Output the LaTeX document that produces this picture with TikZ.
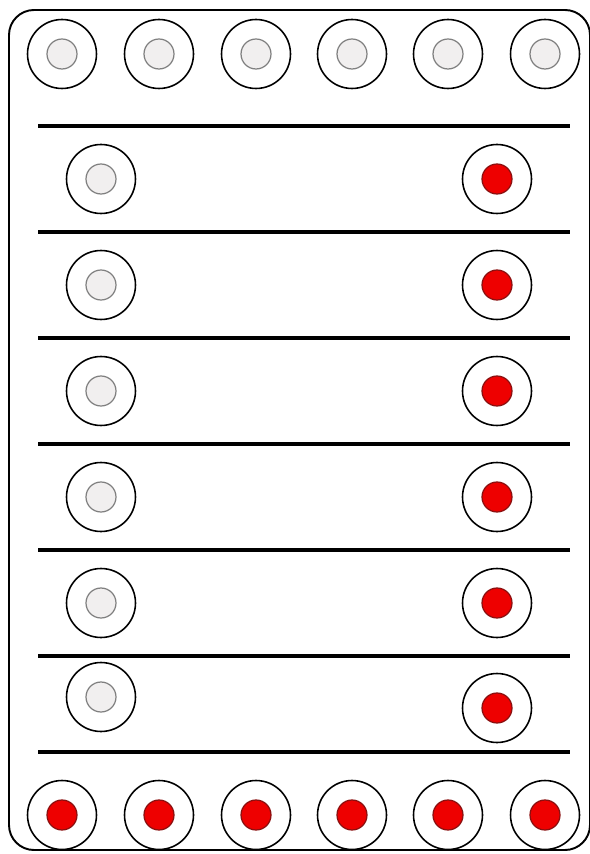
\documentclass[tikz,border=0pt]{standalone}
\usepackage[dvipsnames]{xcolor}
\usepackage{tikz}

\definecolor{offwhite}{HTML}{F1EFEF}
\definecolor{ledred}{HTML}{EE0000}
\definecolor{ledrim}{HTML}{8A1010}

\begin{document}
\begin{tikzpicture}[x=0.02cm, y=-0.02cm,
    ring/.style = {draw, circle, line width=0.9pt, minimum size=1.38cm, inner sep=0pt},
    off/.style = {draw=gray, circle, fill=offwhite, line width=0.7pt, minimum size=0.6cm, inner sep=0pt},
    on/.style = {draw=ledrim, circle, fill=ledred, line width=0.7pt, minimum size=0.6cm, inner sep=0pt},
    sep/.style = {line width=2pt}]
        \useasboundingbox (0,0) rectangle (590,854);
        \draw[line width=1.1pt, rounded corners=0.5cm] (9,10) rectangle (590,850);
        % top and bottom rows
        \foreach \i/\x in {1/62, 2/159, 3/256, 4/352, 5/448, 6/545} {
            \node[ring] (top\i) at (\x,54) {};
            \node[off] at (top\i) {};
            \node[ring] (bot\i) at (\x,815) {};
            \node[on] at (bot\i) {};
        }
        % rows in between
        \foreach \i/\yl/\yr in {1/179/179, 2/285/285, 3/391/391, 4/497/497, 5/603/603, 6/697/708} {
            \node[ring] (left\i) at (101,\yl) {};
            \node[off] at (left\i) {};
            \node[ring] (right\i) at (497,\yr) {};
            \node[on] at (right\i) {};
        }
        % separating lines
        \foreach \i/\y in {1/126, 2/232, 3/338, 4/444, 5/550, 6/656, 7/752} {
            \coordinate (sa\i) at (38,\y);
            \coordinate (sb\i) at (570,\y);
            \draw[sep] (sa\i) -- (sb\i);
        }
      \end{tikzpicture}
\end{document}
